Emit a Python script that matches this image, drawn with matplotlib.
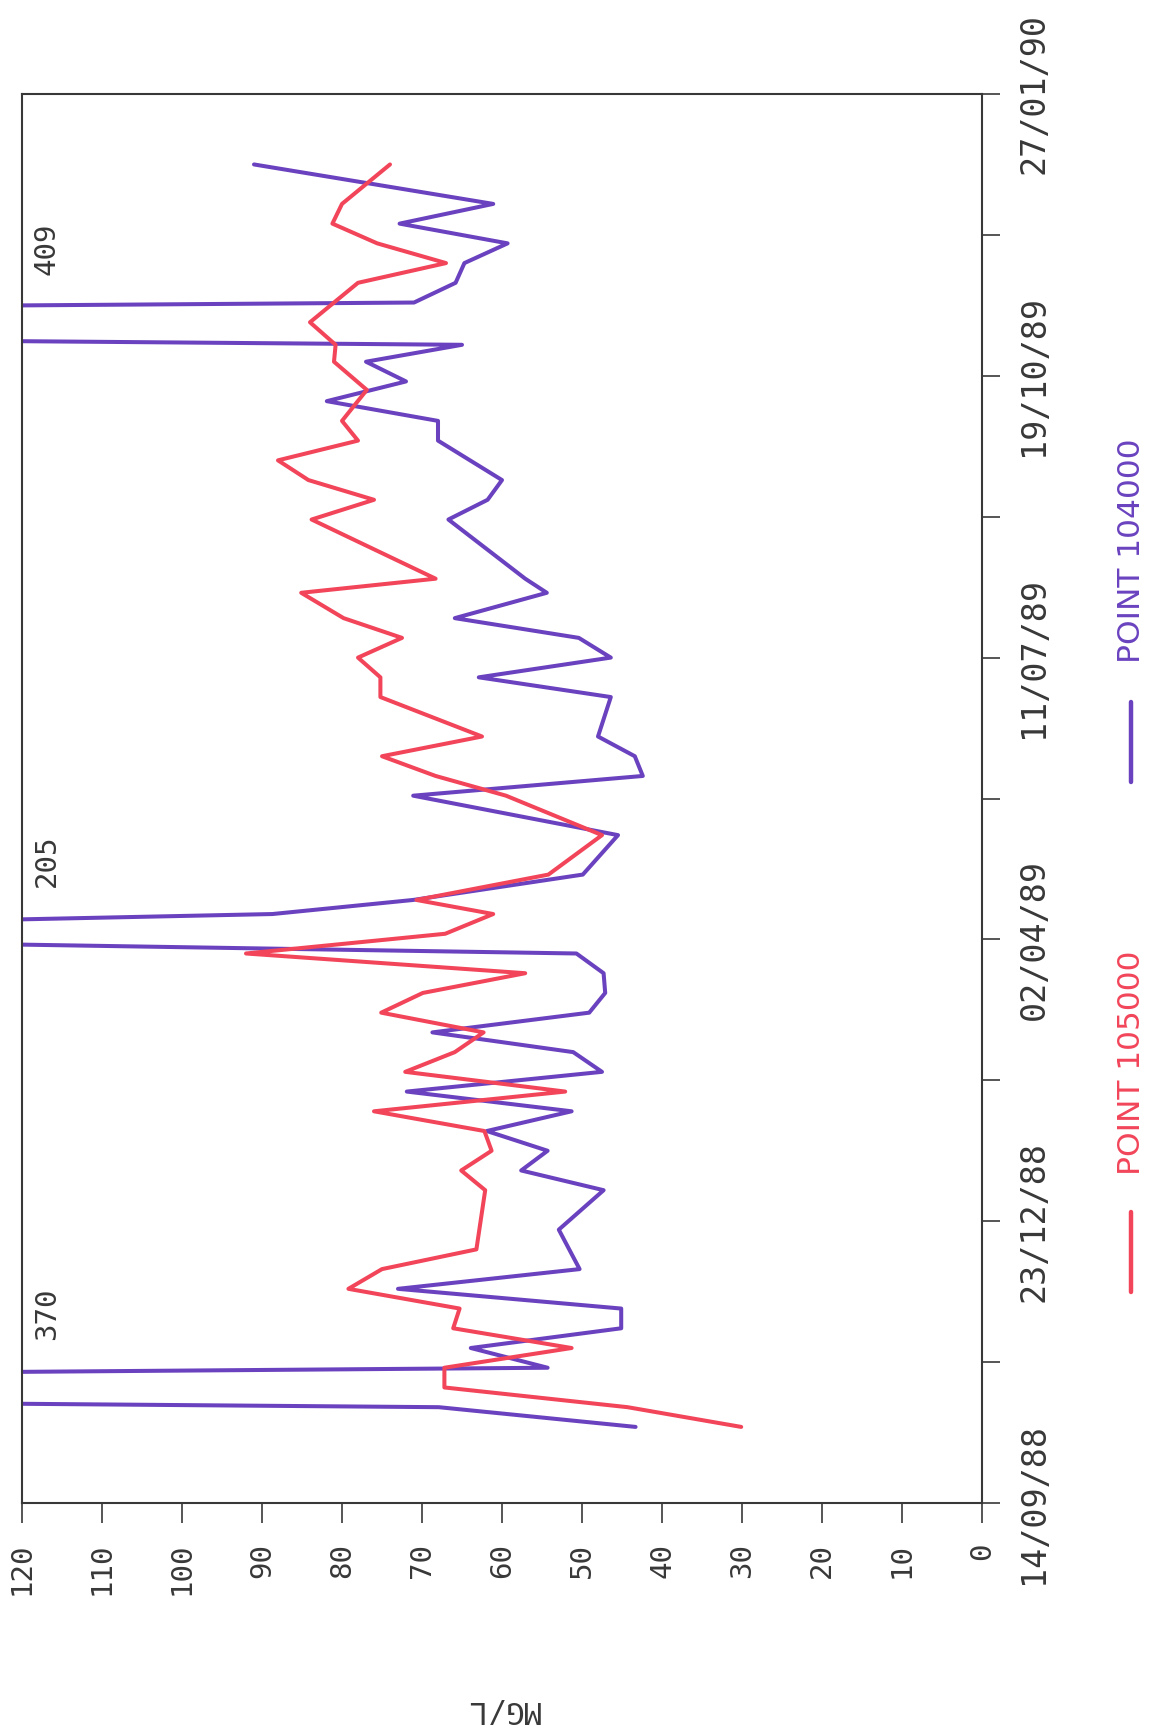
import datetime as dt

import matplotlib
matplotlib.use("Agg")
import matplotlib.pyplot as plt
import matplotlib.dates as mdates
from matplotlib.lines import Line2D

# ---- data -------------------------------------------------------------
start = dt.date(1988, 9, 14)
end = dt.date(1990, 1, 27)

dates_104000 = [
    "1988-10-11", "1988-10-18", "1988-10-25", "1988-11-01", "1988-11-08",
    "1988-11-15", "1988-11-22", "1988-11-29", "1988-12-06", "1988-12-20",
    "1989-01-03", "1989-01-10", "1989-01-17", "1989-01-24", "1989-01-31",
    "1989-02-07", "1989-02-14", "1989-02-21", "1989-02-28", "1989-03-07",
    "1989-03-14", "1989-03-21", "1989-03-28", "1989-04-04", "1989-04-11",
    "1989-04-16", "1989-04-25", "1989-05-09", "1989-05-23", "1989-05-30",
    "1989-06-06", "1989-06-13", "1989-06-27", "1989-07-04", "1989-07-11",
    "1989-07-18", "1989-07-25", "1989-08-03", "1989-08-08", "1989-08-29",
    "1989-09-05", "1989-09-12", "1989-09-26", "1989-10-03", "1989-10-10",
    "1989-10-17", "1989-10-24", "1989-10-30", "1989-11-07", "1989-11-14",
    "1989-11-21", "1989-11-28", "1989-12-05", "1989-12-12", "1989-12-19",
    "1990-01-02",
]
mgl_104000 = [
    43.3, 67.9, 370, 54.3, 63.9,
    45.1, 45.1, 73.0, 50.3, 52.9,
    47.3, 57.6, 54.3, 61.9, 51.3,
    71.9, 47.5, 51.1, 68.7, 49.1,
    47.1, 47.3, 50.7, 205, 88.7,
    71.1, 49.9, 45.5, 71.1, 42.4,
    43.4, 48.0, 46.4, 62.9, 46.4,
    50.4, 65.9, 54.4, 57.1, 66.7,
    61.8, 60.0, 68.0, 68.0, 81.9,
    72.0, 77.0, 65.0, 409, 71.0,
    65.8, 64.7, 59.3, 72.8, 61.1,
    91.0,
]

dates_105000 = [
    "1988-10-11", "1988-10-18", "1988-10-25", "1988-11-01", "1988-11-08",
    "1988-11-15", "1988-11-22", "1988-11-29", "1988-12-06", "1988-12-13",
    "1989-01-03", "1989-01-10", "1989-01-17", "1989-01-24", "1989-01-31",
    "1989-02-07", "1989-02-14", "1989-02-21", "1989-02-28", "1989-03-07",
    "1989-03-14", "1989-03-21", "1989-03-28", "1989-04-04", "1989-04-11",
    "1989-04-16", "1989-04-25", "1989-05-09", "1989-05-23", "1989-05-30",
    "1989-06-06", "1989-06-13", "1989-06-27", "1989-07-04", "1989-07-11",
    "1989-07-18", "1989-07-25", "1989-08-03", "1989-08-08", "1989-08-29",
    "1989-09-05", "1989-09-12", "1989-09-19", "1989-09-26", "1989-10-03",
    "1989-10-14", "1989-10-24", "1989-10-30", "1989-11-07", "1989-11-21",
    "1989-11-28", "1989-12-05", "1989-12-12", "1989-12-19", "1990-01-02",
]
mgl_105000 = [
    30.1, 44.3, 67.2, 67.2, 51.3,
    66.1, 65.3, 79.2, 75.0, 63.2,
    62.1, 65.1, 61.3, 62.2, 76.0,
    52.1, 72.1, 65.9, 62.3, 75.1,
    69.9, 57.1, 92.0, 67.1, 61.1,
    70.7, 54.2, 47.5, 59.5, 68.3,
    75.0, 62.5, 75.2, 75.2, 78.0,
    72.5, 79.8, 85.1, 68.3, 83.8,
    76.0, 84.2, 88.0, 78.0, 80.0,
    76.9, 81.0, 80.8, 84.0, 78.0,
    67.0, 75.6, 81.2, 80.0, 74.0,
]

series_names = ["POINT 105000", "POINT 104000"]
series_colors = ["#f2455a", "#6a42bf"]

mgl_ticks = list(range(0, 130, 10))
date_tick_step = 50       # days between date ticks
y_max = 120

# ---- figure -----------------------------------------------------------
W, H = 1152, 1730
fig = plt.figure(figsize=(W / 100, H / 100), dpi=100)
fig.patch.set_facecolor("white")

ax_left, ax_right, ax_top, ax_bottom = 22, 982, 94, 1503
ax = fig.add_axes([ax_left / W, 1 - ax_bottom / H,
                   (ax_right - ax_left) / W, (ax_bottom - ax_top) / H])

ink = "#383838"
mono = "DejaVu Sans Mono"


def to_dates(items):
    return [dt.datetime.strptime(s, "%Y-%m-%d").date() for s in items]


d104 = to_dates(dates_104000)
d105 = to_dates(dates_105000)

ax.plot(mgl_105000, d105, color=series_colors[0], lw=2.9,
        solid_joinstyle="round", solid_capstyle="round", zorder=3)
ax.plot(mgl_104000, d104, color=series_colors[1], lw=2.9,
        solid_joinstyle="round", solid_capstyle="round", zorder=2)

# values beyond the scale are written next to the clipped spike
for d, v in zip(d104, mgl_104000):
    if v > y_max:
        ax.text(116.9, d + dt.timedelta(days=26), f"{v:g}", rotation=90,
                ha="center", va="center", fontsize=21, family=mono,
                color=ink)

ax.set_xlim(y_max, 0)
ax.set_ylim(start, end)

ax.set_xticks(mgl_ticks)
ax.set_xticklabels([str(t) for t in mgl_ticks], rotation=90,
                   family=mono, fontsize=21, color=ink)

ax.yaxis.tick_right()
n_ticks = (end - start).days // date_tick_step + 1
date_ticks = [start + dt.timedelta(days=date_tick_step * k) for k in range(n_ticks)]
ax.set_yticks(date_ticks)
ax.set_yticklabels([d.strftime("%d/%m/%y") if k % 2 == 0 else ""
                    for k, d in enumerate(date_ticks)],
                   rotation=90, family=mono, fontsize=24, color=ink,
                   va="center", ha="left")

ax.tick_params(axis="x", direction="out", length=14.5, width=1.2,
               color=ink, pad=14)
ax.tick_params(axis="y", direction="out", length=13, width=1.2,
               color=ink, pad=12.5)

for sp in ax.spines.values():
    sp.set_linewidth(1.5)
    sp.set_color(ink)

# axis title, upside down below the value scale
fig.text(503 / W, 1 - 1710 / H, "MG/L", rotation=180, ha="center",
         va="center", family=mono, fontsize=22, color=ink)

# legend entries: a short pen stroke followed by the station name
legend_spots = [(1063, 1212, 1292), (551, 702, 782)]
for name, color, (ty, y1, y2) in zip(series_names, series_colors, legend_spots):
    fig.add_artist(Line2D([1131 / W, 1131 / W], [1 - y1 / H, 1 - y2 / H],
                          transform=fig.transFigure, color=color, lw=3.2,
                          solid_capstyle="round"))
    fig.text(1131 / W, 1 - ty / H, name, rotation=90, ha="center",
             va="center", family="DejaVu Sans", fontsize=22.5, color=color)

fig.savefig("out.png", dpi=100, facecolor="white")
